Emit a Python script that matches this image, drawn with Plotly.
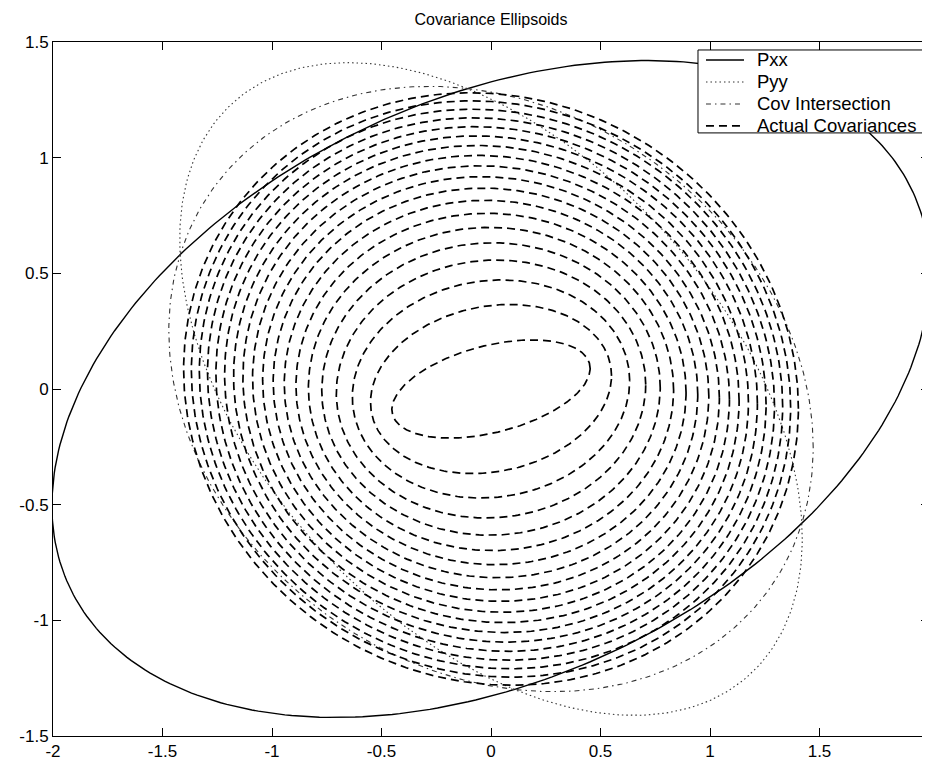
import numpy as np
import plotly.graph_objects as go

# ---- data (covariance matrices) ----
P_xx = [[4.02, 1.01], [1.01, 2.016]]
P_yy = [[2.02, -0.92], [-0.92, 1.99]]
ci_weight = 0.43                       # omega of the covariance intersection
# actual covariance depends linearly on the cross-correlation: P = base + rho*slope
P_actual_base = [[1.0875, -0.04], [-0.04, 0.8425]]
P_actual_slope = [[0.9806, -0.0889], [-0.0889, 0.8861]]
cross_correlations = [-0.9, -0.8, -0.7, -0.6, -0.5, -0.4, -0.3, -0.2, -0.1, 0.0,
                      0.1, 0.2, 0.3, 0.4, 0.5, 0.6, 0.7, 0.8, 0.9]

series_names = ["Pxx", "Pyy", "Cov Intersection", "Actual Covariances"]

x_ticks = [-2, -1.5, -1, -0.5, 0, 0.5, 1, 1.5]
x_tick_text = ["-2", "-1.5", "-1", "-0.5", "0", "0.5", "1", "1.5"]
y_ticks = [-1.5, -1, -0.5, 0, 0.5, 1, 1.5]
y_tick_text = ["-1.5", "-1", "-0.5", "0", "0.5", "1", "1.5"]

N_PTS = 361

# line styles
STY = {
    "Pxx": dict(color="black", width=1.4),
    "Pyy": dict(color="#333333", width=1.1, dash="1.5px,3px"),
    "Cov Intersection": dict(color="#333333", width=1.1, dash="5px,4px,1.5px,4px"),
    "Actual Covariances": dict(color="black", width=1.7, dash="8px,5px"),
}


def ellipse(P):
    L = np.linalg.cholesky(np.array(P, dtype=float))
    t = np.linspace(0, 2 * np.pi, N_PTS)
    pts = L @ np.vstack([np.cos(t), np.sin(t)])
    return pts[0], pts[1]


Pxx = np.array(P_xx)
Pyy = np.array(P_yy)
P_ci = np.linalg.inv(ci_weight * np.linalg.inv(Pxx) + (1 - ci_weight) * np.linalg.inv(Pyy))

fig = go.Figure()
FONT = "Liberation Sans, Arial, Helvetica, sans-serif"

for name, P in zip(series_names[:3], [Pxx, Pyy, P_ci]):
    x, y = ellipse(P)
    fig.add_trace(go.Scatter(x=x, y=y, mode="lines", name=name,
                             line=STY[name], showlegend=False))

ax, ay = [], []
base = np.array(P_actual_base)
slope = np.array(P_actual_slope)
for rho in cross_correlations:
    ex, ey = ellipse(base + rho * slope)
    ax.extend(list(ex) + [None])
    ay.extend(list(ey) + [None])
fig.add_trace(go.Scatter(x=ax, y=ay, mode="lines", name=series_names[3],
                         connectgaps=False, line=STY[series_names[3]],
                         showlegend=False))

axis_common = dict(showgrid=False, zeroline=False, showline=True, linecolor="black",
                   linewidth=1, mirror="allticks", ticks="inside", ticklen=8,
                   tickwidth=1, tickcolor="black",
                   tickfont=dict(family=FONT, size=17, color="black"))

# ---- legend box (drawn in paper coordinates of the plot area) ----
shapes = [dict(type="rect", xref="paper", yref="paper",
               x0=0.7363, x1=0.9954, y0=0.869, y1=0.9885,
               line=dict(color="black", width=1), fillcolor="white", layer="above")]
annotations = []
row_y = [0.9741, 0.9424, 0.9107, 0.8790]
for name, yy in zip(series_names, row_y):
    st = STY[name]
    shapes.append(dict(type="line", xref="paper", yref="paper",
                       x0=0.7454, x1=0.7888, y0=yy, y1=yy, layer="above",
                       line=dict(color=st["color"], width=st["width"],
                                 dash=st.get("dash", "solid"))))
    annotations.append(dict(text=name, xref="paper", yref="paper", x=0.8014, y=yy,
                            xanchor="left", yanchor="middle", showarrow=False,
                            font=dict(family=FONT, size=18.5, color="black")))

fig.update_layout(
    width=922, height=753,
    margin=dict(l=45, r=1, t=34, b=25),
    paper_bgcolor="white", plot_bgcolor="white",
    title=dict(text="Covariance Ellipsoids", x=0.5, xref="paper", y=1 - 11 / 753,
               yanchor="middle", xanchor="center",
               font=dict(family=FONT, size=16, color="black")),
    xaxis=dict(range=[-2, 2], tickvals=x_ticks, ticktext=x_tick_text, **axis_common),
    yaxis=dict(range=[-1.5, 1.5], tickvals=y_ticks, ticktext=y_tick_text, **axis_common),
    shapes=shapes,
    annotations=annotations,
    showlegend=False,
)

fig.write_html("out.html")
